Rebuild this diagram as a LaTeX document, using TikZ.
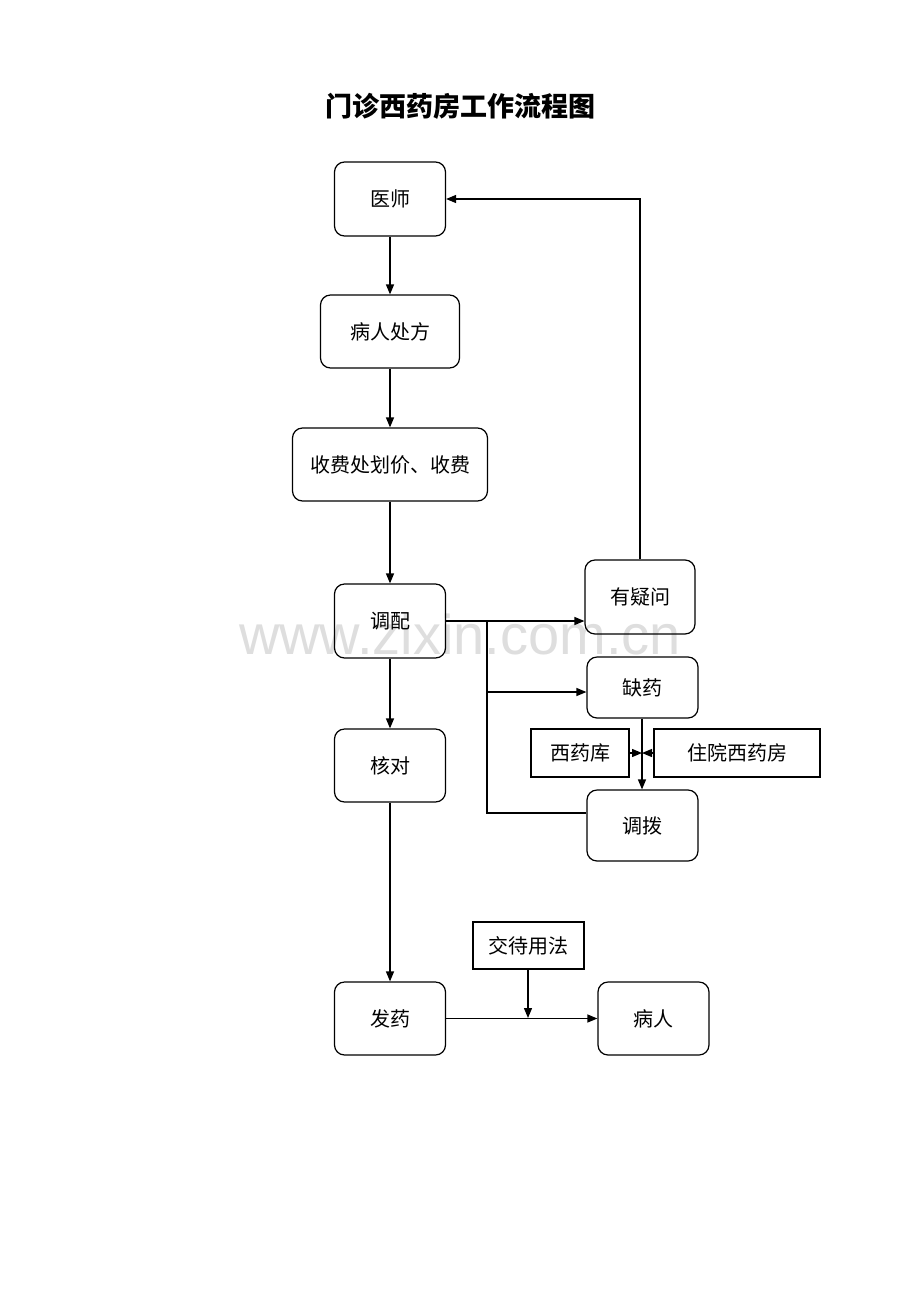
\documentclass[tikz,border=0pt]{standalone}
\usepackage{fontspec}
\newfontfamily\cjk{Noto Sans CJK SC}
\newfontfamily\wm{Liberation Sans}
\usetikzlibrary{arrows.meta}
\begin{document}
\begin{tikzpicture}[x=1pt,y=-1pt,
  rbox/.style={draw,line width=1.2pt,rounded corners=10pt,inner sep=0pt,font=\cjk\fontsize{20}{24}\selectfont},
  sbox/.style={draw,line width=1.2pt,inner sep=0pt,font=\cjk\fontsize{20}{24}\selectfont},
  conn/.style={line width=1.3pt},
  arr/.style={conn,-{Triangle[length=10pt,width=8pt]}}]
\useasboundingbox (0,0) rectangle (920,1302);
\fill[white] (0,0) rectangle (920,1302);
\node[text=black!13,font=\wm\fontsize{56}{60}\selectfont] (wm) at (460,634) {www.zixin.com.cn};
\node[font=\cjk\bfseries\fontsize{27}{32}\selectfont] (title) at (460,106) {门诊西药房工作流程图};
\node[rbox,minimum width=111pt,minimum height=74pt] (ys) at (390,199) {医师};
\node[rbox,minimum width=139pt,minimum height=73pt] (brcf) at (390,331.5) {病人处方};
\node[rbox,minimum width=195pt,minimum height=73pt] (sf) at (390,464.5) {收费处划价、收费};
\node[rbox,minimum width=111pt,minimum height=74pt] (tp) at (390,621) {调配};
\node[rbox,minimum width=110pt,minimum height=74pt] (yyw) at (640,597) {有疑问};
\node[rbox,minimum width=111pt,minimum height=61pt] (qy) at (642.5,687.5) {缺药};
\node[sbox,minimum width=98pt,minimum height=48pt] (xyk) at (580,753) {西药库};
\node[sbox,minimum width=166pt,minimum height=48pt] (zy) at (737,753) {住院西药房};
\node[rbox,minimum width=111pt,minimum height=71pt] (tb) at (642.5,825.5) {调拨};
\node[rbox,minimum width=111pt,minimum height=73pt] (hd) at (390,765.5) {核对};
\node[rbox,minimum width=111pt,minimum height=73pt] (fy) at (390,1018.5) {发药};
\node[sbox,minimum width=111pt,minimum height=47pt] (jd) at (528.5,945.5) {交待用法};
\node[rbox,minimum width=111pt,minimum height=73pt] (br) at (653.5,1018.5) {病人};
\coordinate (j1) at (487,621);
\coordinate (j2) at (487,692);
\coordinate (j3) at (487,813);
\coordinate (mid) at (642,753);
\coordinate (fj) at (528,1018);
\draw[arr] (ys.south) -- (brcf.north);
\draw[arr] (brcf.south) -- (sf.north);
\draw[arr] (sf.south) -- (tp.north);
\draw[arr] (tp.east |- j1) -- (yyw.west |- j1);
\draw[arr] (yyw.north) |- (ys.east);
\draw[conn] (j1) -- (j3) -- (tb.west |- j3);
\draw[arr] (j2) -- (qy.west |- j2);
\draw[arr] (qy.south -| mid) -- (tb.north -| mid);
\draw[arr] (xyk.east) -- (mid);
\draw[arr] (zy.west) -- (mid);
\draw[arr] (tp.south) -- (hd.north);
\draw[arr] (hd.south) -- (fy.north);
\draw[arr] (fy.east) -- (br.west);
\draw[arr] (jd.south -| fj) -- (fj);
\end{tikzpicture}
\end{document}
